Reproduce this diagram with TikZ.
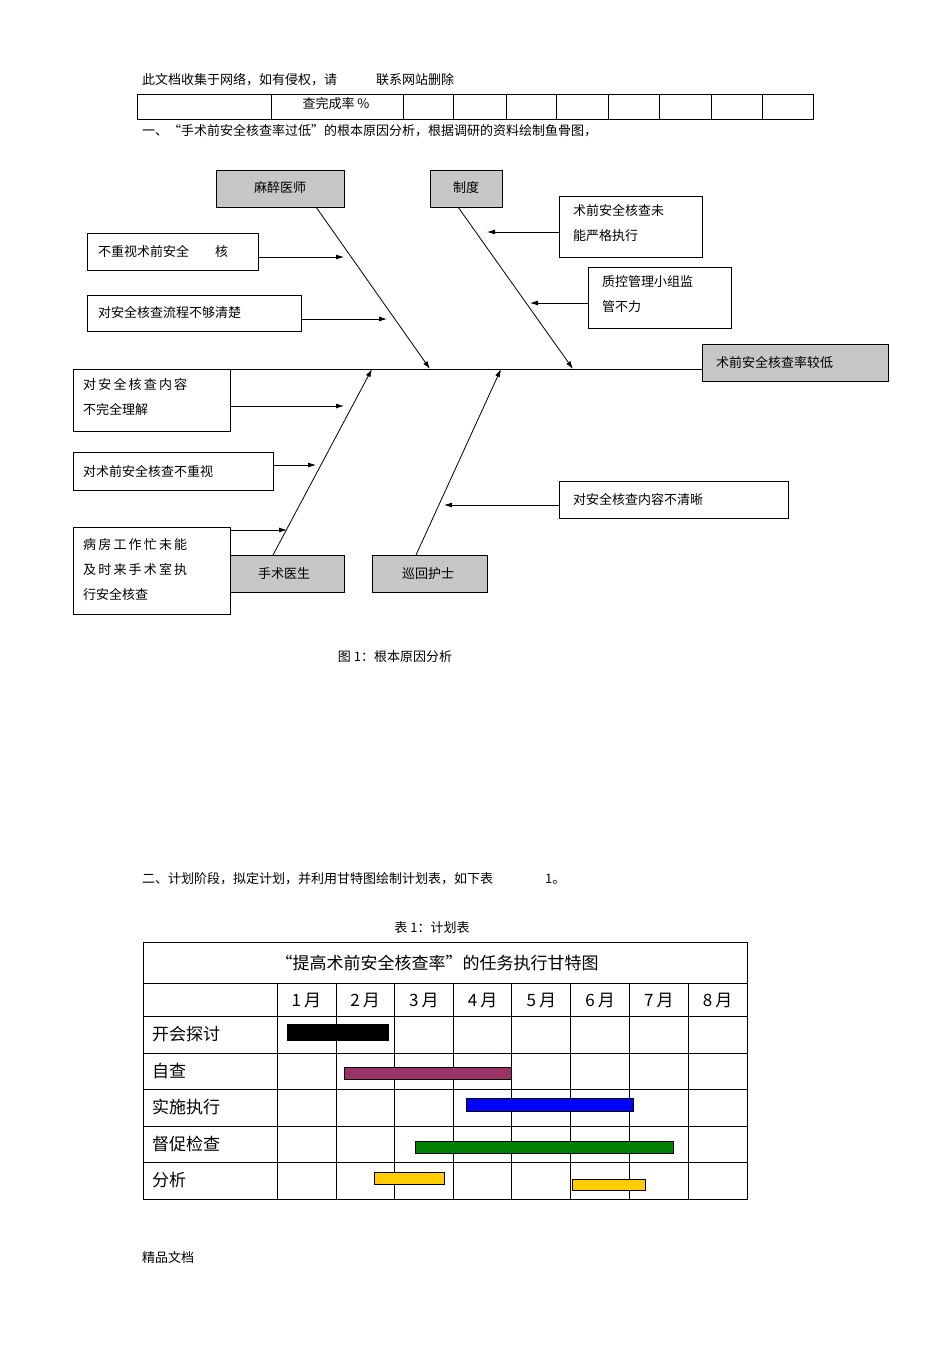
\documentclass[tikz,border=0pt]{standalone}
\usepackage{fontspec}
\setmainfont{Liberation Sans}
\newfontfamily\cjk{Noto Sans CJK SC}
\usetikzlibrary{arrows.meta}
\begin{document}
\begin{tikzpicture}[x=1pt,y=-1pt,
  txt/.style={font=\cjk\fontsize{13}{16}\selectfont,inner sep=0pt},
  gtxt/.style={font=\cjk\fontsize{17}{20}\selectfont,inner sep=0pt},
  catbox/.style={draw,fill=gray!45,line width=0.8pt},
  causebox/.style={draw,line width=0.8pt},
  arr/.style={-{Latex[length=8pt,width=5pt]},line width=0.8pt},
  bone/.style={line width=0.9pt}]
\useasboundingbox (0,0) rectangle (950,1345);
% header
\node[txt,anchor=west] (hd) at (142,80) {此文档收集于网络，如有侵权，请\hspace{3em}联系网站删除};
\draw[line width=0.8pt] (137,94) rectangle (813,119);
\foreach \x in {271,403,453,506,556,608,659,711,762} \draw[line width=0.6pt] (\x,94) -- (\x,119);
\node[txt] (rate) at (336,104) {查完成率 \%};
\node[txt,anchor=west] (t1) at (142,131) {一、“手术前安全核查率过低”的根本原因分析，根据调研的资料绘制鱼骨图，};
% fishbone boxes
\draw[catbox] (216,170) rectangle (344,207); \node[txt] (mz) at (280,188) {麻醉医师};
\draw[catbox] (430,170) rectangle (502,207); \node[txt] (zd) at (466,188) {制度};
\draw[catbox] (702,344) rectangle (888,381); \node[txt,anchor=west] (head) at (716,363) {术前安全核查率较低};
\draw[catbox] (230,555) rectangle (344,592); \node[txt] (ss) at (284,574) {手术医生};
\draw[catbox] (372,555) rectangle (487,592); \node[txt] (xh) at (428,574) {巡回护士};
\draw[causebox] (559,196) rectangle (702,257);
\node[txt,anchor=north west,align=left] (c1) at (573,204) {术前安全核查未\\[9pt]能严格执行};
\draw[causebox] (588,267) rectangle (731,328);
\node[txt,anchor=north west,align=left] (c2) at (602,275) {质控管理小组监\\[9pt]管不力};
\draw[causebox] (87,233) rectangle (258,270); \node[txt,anchor=west] (c3) at (98,251) {不重视术前安全\hspace{2em}核};
\draw[causebox] (87,295) rectangle (301,331); \node[txt,anchor=west] (c4) at (98,312) {对安全核查流程不够清楚};
\draw[causebox] (73,369) rectangle (230,431);
\node[txt,anchor=north west,align=left] (c5) at (83,378) {对\,安\,全\,核\,查\,内\,容\\[9pt]不完全理解};
\draw[causebox] (73,452) rectangle (273,490); \node[txt,anchor=west] (c6) at (83,471) {对术前安全核查不重视};
\draw[causebox] (73,527) rectangle (230,614);
\node[txt,anchor=north west,align=left] (c7) at (83,538) {病\,房\,工\,作\,忙\,未\,能\\[9pt]及\,时\,来\,手\,术\,室\,执\\[9pt]行安全核查};
\draw[causebox] (559,481) rectangle (788,518); \node[txt,anchor=west] (c8) at (573,499) {对安全核查内容不清晰};
% spine and bones
\coordinate (sp0) at (73,369); \coordinate (sp1) at (702,369);
\draw[bone] (sp0) -- (sp1);
\coordinate (b1s) at (316,207); \coordinate (b1e) at (430,369);
\coordinate (b2s) at (458,207); \coordinate (b2e) at (573,369);
\coordinate (b3s) at (273,555); \coordinate (b3e) at (372,369);
\coordinate (b4s) at (416,555); \coordinate (b4e) at (501,369);
\draw[arr] (b1s) -- (b1e);
\draw[arr] (b2s) -- (b2e);
\draw[arr] (b3s) -- (b3e);
\draw[arr] (b4s) -- (b4e);
% cause arrows
\coordinate (a3s) at (258,257); \coordinate (a3e) at (344,257);
\coordinate (a4s) at (301,319); \coordinate (a4e) at (387,319);
\coordinate (a5s) at (230,406); \coordinate (a5e) at (344,406);
\coordinate (a6s) at (273,465); \coordinate (a6e) at (316,465);
\coordinate (a7s) at (230,530); \coordinate (a7e) at (287,530);
\coordinate (a1s) at (559,232); \coordinate (a1e) at (487,232);
\coordinate (a2s) at (588,303); \coordinate (a2e) at (530,303);
\coordinate (a8s) at (559,505); \coordinate (a8e) at (444,505);
\foreach \i in {1,...,8} \draw[arr] (a\i s) -- (a\i e);
\node[txt] (fig) at (395,657) {图 1：根本原因分析};
\node[txt,anchor=west] (t2) at (142,879) {二、计划阶段，拟定计划，并利用甘特图绘制计划表，如下表\hspace{4em}1。};
\node[txt] (tab) at (432,928) {表 1：计划表};
% gantt
\draw[line width=0.8pt] (143,942) rectangle (747,1199);
\draw[line width=0.7pt] (143,983) -- (747,983);
\foreach \y in {1016,1053,1089,1126,1162} \draw[line width=0.7pt] (143,\y) -- (747,\y);
\foreach \x in {277,336,394,453,511,570,629,688} \draw[line width=0.7pt] (\x,983) -- (\x,1199);
\node[gtxt] (gt) at (437,963) {“提高术前安全核查率”的任务执行甘特图};
\foreach \m [count=\i] in {1,...,8} \node[gtxt] (m\i) at ({277+58.75*(\i-0.5)},1000) {\m\,月};
\node[gtxt,anchor=west] (r1) at (152,1034) {开会探讨};
\node[gtxt,anchor=west] (r2) at (152,1071) {自查};
\node[gtxt,anchor=west] (r3) at (152,1107) {实施执行};
\node[gtxt,anchor=west] (r4) at (152,1144) {督促检查};
\node[gtxt,anchor=west] (r5) at (152,1180) {分析};
\draw[fill=black] (287,1024) rectangle (388,1040);
\draw[fill={rgb,255:red,153;green,51;blue,102}] (344,1067) rectangle (511,1079);
\draw[fill={rgb,255:red,0;green,0;blue,255}] (466,1098) rectangle (633,1111);
\draw[fill={rgb,255:red,0;green,128;blue,0}] (415,1141) rectangle (673,1153);
\draw[fill={rgb,255:red,255;green,204;blue,0}] (374,1172) rectangle (444,1184);
\draw[fill={rgb,255:red,255;green,204;blue,0}] (572,1179) rectangle (645,1190);
\node[txt,anchor=west] (ft) at (142,1257) {精品文档};
\end{tikzpicture}
\end{document}
